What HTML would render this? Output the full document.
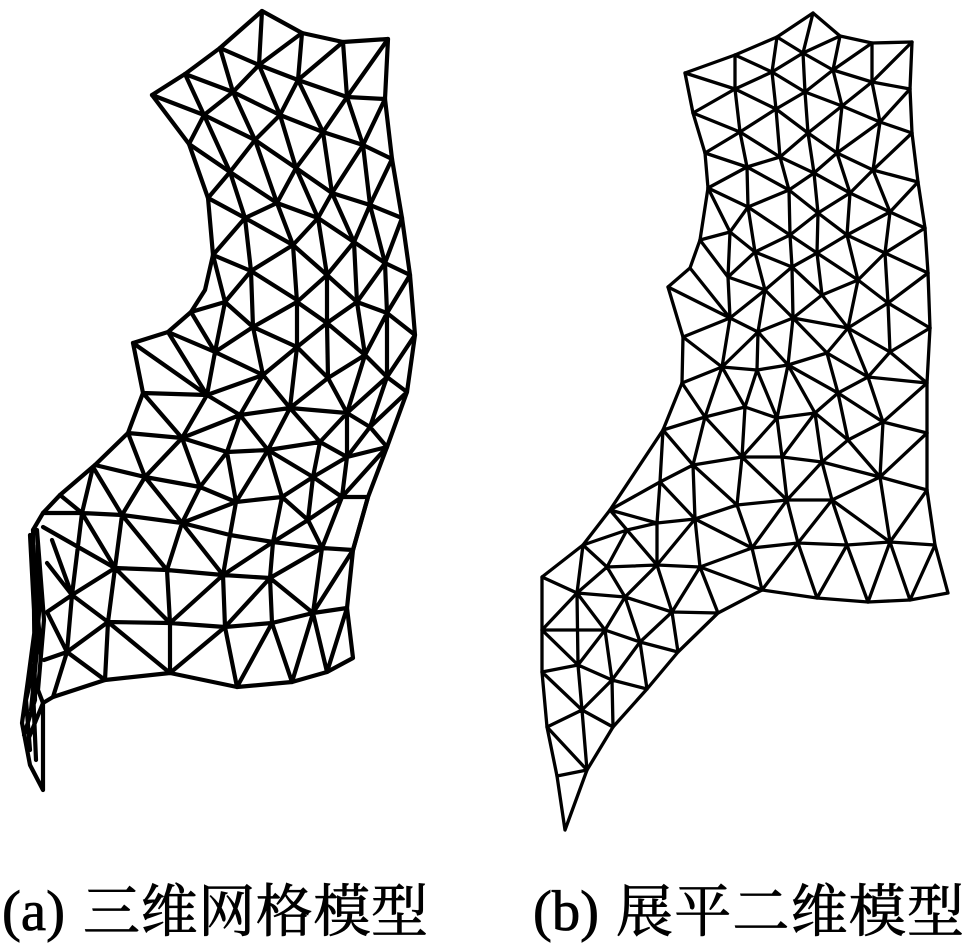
<!DOCTYPE html>
<html><head><meta charset="utf-8"><style>
html,body{margin:0;padding:0;background:#fff}
svg{display:block}
text{fill:#000;stroke:#000;stroke-width:.8px}
.l{font-family:"Liberation Serif",serif;font-size:57px}
.c{font-family:"Liberation Serif","Noto Serif CJK SC",serif;font-size:57px}
</style></head><body>
<svg xmlns="http://www.w3.org/2000/svg" width="969" height="951" viewBox="0 0 969 951">
<rect width="969" height="951" fill="#fff"/>
<g fill="none" stroke="#000" stroke-width="4.2" stroke-linejoin="round" stroke-linecap="round">
<path d="M152 95L185 74L220 48L262 11L302 33L343 42L388 39L385 99L392 159L402 218L410 275L415 335L407 392L387 447L368 497L353 550L347 608L353 658L327 672L292 682L237 687L170 673L105 680L53 697L43 703"/>
<path d="M152 95L189 144L208 198L213 255L205 290L191 312L168 332L133 343L143 393L128 433L95 465L60 495L43 513L33 530"/>
<path d="M220 48L259 65L298 80L347 97L385 99M185 74L233 92L280 115L323 132L363 145L392 159M152 95L204 115L255 140L296 168L332 193L370 205L402 218M189 144L230 172L277 203L318 218L354 242L385 263L410 275M208 198L245 218L293 245L327 275L357 302M213 255L251 271L297 300"/>
<path d="M302 33L259 65L233 92L204 115L189 144M343 42L298 80L280 115L255 140L230 172L208 198M388 39L347 97L323 132L296 168L277 203L245 218L213 255M385 99L363 145L332 193L318 218L293 245L251 271L225 302M392 159L370 205L354 242L327 275L297 302M402 218L385 263L357 302M410 275L387 313"/>
<path d="M262 11L259 65L280 115L296 168L318 218L327 275L327 323M220 48L233 92L255 140L277 203L293 245L297 302L297 347M185 74L204 115L230 172L245 218L251 271L253 327M302 33L298 80L323 132L332 193L354 242L357 302M343 42L347 97L363 145L370 205L385 263L387 313M213 255L225 302"/>
<path d="M191 312L225 302L253 327L297 302L327 323L357 302L387 313L415 335M191 312L215 352M225 302L215 352M253 327L215 352M168 332L215 352L263 375M168 332L207 395M133 343L207 395M215 352L207 395M253 327L263 375M297 347L263 375M253 327L297 347L328 378M327 323L297 347M327 323L328 378M327 323L365 355M357 302L365 355M387 313L365 355M365 355L328 378M365 355L387 377L407 392M387 313L387 377M415 335L387 377M365 355L347 413M328 378L347 413M387 377L347 413M407 392L370 427M387 377L370 427M347 413L370 427L387 447"/>
<path d="M328 378L290 408L297 347M263 375L290 408L347 413M263 375L207 395M263 375L240 415L207 395M240 415L290 408M240 415L182 438L207 395M143 393L182 438M143 393L207 395M128 433L182 438M240 415L227 452M240 415L268 450L290 408M290 408L320 442L347 413M347 413L347 457L370 427M320 442L347 457L387 447M320 442L268 450L227 452L182 438M268 450L313 477L320 442M347 457L313 477L342 497L347 457M387 447L342 497L368 497M268 450L282 497L313 477M268 450L236 502L227 452L200 487L182 438M182 438L145 477L128 433M145 477L200 487L236 502L282 497M200 487L182 523L145 477M236 502L182 523M145 477L122 515M95 465L145 477M282 497L308 520L313 477M342 497L308 520M282 497L273 542M342 497L322 548M368 497L353 550M308 520L273 542M308 520L322 548"/>
<path d="M93 467L82 513M93 467L122 515M60 495L82 513M43 513L82 513L122 515L182 523L230 535L273 542L322 548L353 550M82 513L115 568M122 515L115 568M122 515L167 570M182 523L167 570M182 523L223 575M230 535L223 575M273 542L223 575M273 542L270 578M322 548L270 578M353 550L313 613M322 548L313 613M236 502L230 535M43 527L115 568L167 570L223 575L270 578M72 595L115 568M115 568L108 622M115 568L170 623M167 570L170 623M223 575L170 623M223 575L225 627M270 578L225 627M270 578L272 623M270 578L313 613M108 622L170 623L225 627L272 623L313 613L347 608M72 595L108 622M108 622L67 652M72 595L67 652M82 513L72 595M47 563L72 595M47 612L72 595M108 622L170 673M170 623L170 673M225 627L170 673M225 627L237 687M272 623L237 687M272 623L292 682M313 613L292 682M313 613L327 672M347 608L327 672M108 622L105 680M67 652L105 680M47 612L67 652M44 660L67 652M67 652L53 697M52 540L72 595"/>
<path d="M33 530L36 620L28 680L22 723L30 765L43 790M37 530L44 620L38 690L43 703L43 790M32 550L40 640L26 700L30 750M30 535L34 610L35 700L24 735M43 703L28 740M40 600L33 690L36 760M38 545L38 640L31 710"/>
</g>
<g fill="none" stroke="#000" stroke-width="3.3" stroke-linejoin="round" stroke-linecap="round">
<path d="M685 73L735 55L777 37L813 13L840 36L872 43L912 42L910 89L912 133L918 182L925 228L928 273L930 328L927 383L927 433L927 490L935 545L948 593L910 600L868 602L817 598L762 590L718 613L678 652L647 689L613 727L587 770L565 830L557 776L547 727L542 672L542 630L542 577L583 545L610 510L663 430L682 383L683 337L668 287L690 268L700 240L708 188L705 153L693 113L685 73"/>
<path d="M685 73L735 89L776 109L808 133L837 153L873 170L918 182M735 55L772 72L805 92L842 106L880 122L912 133M777 37L803 53L833 70L872 82L910 89M693 113L740 132L780 157L814 173L850 193L890 212L925 228M705 153L747 167L789 190L818 213L847 235L885 253L928 273M708 188L748 207L790 235L817 253L858 280L888 303L930 328"/>
<path d="M840 36L803 53L772 72L735 89L693 113M872 43L833 70L805 92L776 109L740 132L705 153M912 42L872 82L842 106L808 133L780 157L747 167L708 188M910 89L880 122L837 153L814 173L789 190L748 207L730 232L700 240M912 133L873 170L850 193L818 213L790 235L755 252L728 277M918 182L890 212L847 235L817 253L792 267L765 290M925 228L885 253L858 280L822 295M928 273L888 303"/>
<path d="M813 13L803 53L805 92L808 133L814 173L818 213L817 253L822 295M777 37L772 72L776 109L780 157L789 190L790 235L792 267L793 318M735 55L735 89L740 132L747 167L748 207L755 252L765 290M840 36L833 70L842 106L837 153L850 193L847 235L858 280L848 328M872 43L872 82L880 122L873 170L890 212L885 253L888 303L890 352M708 188L730 232L728 277L730 318M700 240L728 277L765 290M730 232L755 252L792 267L822 295"/>
<path d="M668 287L730 318L758 332L793 318L848 328L890 352L927 383M690 268L730 318M765 290L730 318M765 290L758 332M765 290L793 318M822 295L793 318M822 295L848 328M888 303L848 328M930 328L890 352M848 328L827 353M793 318L827 353M848 328L868 377M890 352L868 377M827 353L788 365M793 318L788 365M758 332L788 365M758 332L757 370M730 318L722 367M758 332L722 367M683 337L730 318M683 337L722 367M682 383L722 367L757 370L788 365L838 393M827 353L838 393M827 353L868 377M838 393L868 377L927 383M868 377L883 422M927 383L883 422M838 393L883 422L927 433"/>
<path d="M722 367L745 407M757 370L745 407M757 370L777 418M788 365L777 418M788 365L815 413M838 393L815 413M838 393L848 440M883 422L848 440M815 413L848 440M722 367L705 417M682 383L705 417M663 430L705 417L745 407L777 418L815 413M663 430L693 465M705 417L693 465M705 417L742 457M745 407L742 457M777 418L742 457M777 418L782 457M815 413L782 457M815 413L822 462M848 440L822 462M848 440L880 477M883 422L880 477M927 433L880 477M693 465L742 457L782 457L822 462L880 477L927 490"/>
<path d="M693 465L737 505M742 457L737 505M742 457L787 500M782 457L787 500M822 462L787 500M822 462L832 500M880 477L832 500M880 477L890 542M927 490L890 542M832 500L890 542M737 505L787 500L832 500M693 465L660 482M663 430L660 482M660 482L695 519M693 465L695 519L737 505M737 505L752 548M695 519L752 548M787 500L752 548M787 500L798 543M832 500L798 543M832 500L847 545M752 548L798 543L847 545L890 542L935 545M752 548L700 567M752 548L762 590M798 543L762 590M798 543L817 598M847 545L817 598M847 545L868 602M890 542L868 602M890 542L910 600M935 545L910 600M700 567L762 590"/>
<path d="M610 510L660 482L657 523L657 565M610 510L627 530M610 510L657 523L695 519M583 545L627 530L657 523M627 530L607 567M583 545L607 567M583 545L577 593M542 577L577 593M607 567L577 593M607 567L657 565L700 567M627 530L657 565M695 519L657 565M695 519L700 567M700 567L718 613M700 567L672 612M657 565L672 612L718 613M657 565L625 597M607 567L625 597M577 593L625 597L672 612M672 612L678 652M718 613L678 652M672 612L640 642M625 597L640 642M625 597L605 630M577 593L605 630M577 593L542 630M577 593L578 665M542 630L605 630L578 665M542 630L578 665M542 672L578 665L612 680M605 630L612 680M605 630L640 642L612 680M640 642L647 689M640 642L678 652M612 680L647 689M612 680L613 727M612 680L582 710M578 665L582 710M542 672L582 710M547 727L582 710L613 727M582 710L587 770M547 727L587 770M557 776L587 770"/>
</g>
<text class="l" x="2" y="930" textLength="63" lengthAdjust="spacingAndGlyphs">(a)</text>
<text class="c" x="83" y="931" textLength="345" lengthAdjust="spacing">三维网格模型</text>
<text class="l" x="533" y="930" textLength="66" lengthAdjust="spacingAndGlyphs">(b)</text>
<text class="c" x="616" y="931" textLength="348" lengthAdjust="spacing">展平二维模型</text>
</svg>
</body></html>
